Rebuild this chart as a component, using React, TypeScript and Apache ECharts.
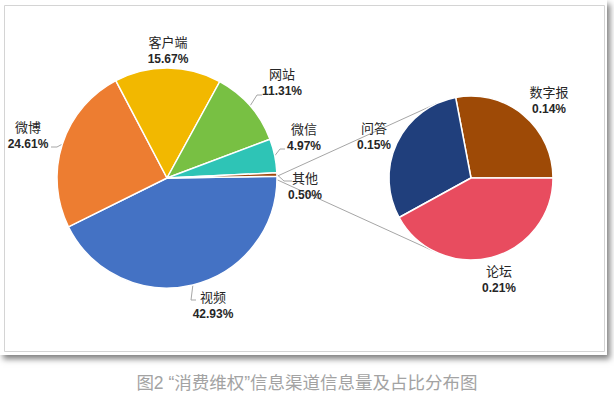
import React, { useEffect, useRef } from "react";
import * as echarts from "echarts";

// ---- data ----
const mainNames = ["视频", "微博", "客户端", "网站", "微信", "其他"];
const mainValues = [42.93, 24.61, 15.67, 11.31, 4.97, 0.5];
const mainColors = ["#4472C4", "#ED7D31", "#F2B800", "#78C043", "#2EC4B6", "#9E480E"];

const subNames = ["数字报", "问答", "论坛"];
const subValues = [0.14, 0.15, 0.21];
const subColors = ["#9E4A06", "#203F7C", "#E84C5F"];

const caption = "图2 “消费维权”信息渠道信息量及占比分布图";

// ---- layout ----
const W = 614;
const H = 393;
const MAIN_C = [167, 178];
const MAIN_R = 110;
const SUB_C = [471, 178];
const SUB_R = 82;

// label block centres
const labelPos: Record<string, [number, number]> = {
  视频: [213, 305],
  微博: [28, 135],
  客户端: [168, 50],
  网站: [282, 82],
  微信: [304, 137],
  其他: [305, 186],
  数字报: [549, 100],
  问答: [374, 136],
  论坛: [499, 279],
};
// guide line bends / ends (start is slice edge)
const guidePts: Record<string, number[][]> = {
  视频: [[191, 300], [196, 300]],
  微博: [[57, 147], [51, 147]],
  网站: [[257, 95], [262, 95]],
  微信: [[280, 149], [285, 149]],
  其他: [[284, 181], [292, 181]],
};

const mainTotal = mainValues.reduce((a, b) => a + b, 0);
const otherHalfDeg = (mainValues[mainValues.length - 1] / mainTotal) * 180;
const mainStart = otherHalfDeg; // degrees CCW from east

function mainMidScreenAngle(i: number) {
  let cum = 0;
  for (let k = 0; k < i; k++) cum += mainValues[k];
  const mid = cum + mainValues[i] / 2;
  const deg = -mainStart + (mid / mainTotal) * 360;
  return (deg * Math.PI) / 180;
}

export default function App() {
  const ref = useRef<HTMLDivElement>(null);

  useEffect(() => {
    if (!ref.current) return;
    const chart = echarts.init(ref.current, undefined, { renderer: "svg", width: W, height: H });

    const rich = {
      n: { fontSize: 13, fontFamily: "Noto Sans CJK SC", color: "#262626", lineHeight: 17, align: "center" },
      v: { fontSize: 12, fontWeight: "bold", fontFamily: "Liberation Sans", color: "#262626", lineHeight: 17, align: "center" },
    };
    const fmt = (p: any) => `{n|${p.name}}\n{v|${Number(p.value).toFixed(2)}%}`;

    const pUp = [
      MAIN_C[0] + MAIN_R * Math.cos((otherHalfDeg * Math.PI) / 180),
      MAIN_C[1] - MAIN_R * Math.sin((otherHalfDeg * Math.PI) / 180),
    ];
    const pDn = [pUp[0], MAIN_C[1] + (MAIN_C[1] - pUp[1])];
    const tangent = (p: number[], upper: boolean) => {
      const dx = SUB_C[0] - p[0];
      const dy = SUB_C[1] - p[1];
      const d = Math.sqrt(dx * dx + dy * dy);
      const phi = Math.atan2(-dy, -dx);
      const a = Math.acos(SUB_R / d);
      const ang = upper ? phi + a : phi - a;
      return [SUB_C[0] + SUB_R * Math.cos(ang), SUB_C[1] + SUB_R * Math.sin(ang)];
    };
    const tUp = tangent(pUp, true);
    const tDn = tangent(pDn, false);
    const top = tUp[1] < tDn[1] ? tUp : tDn;
    const bot = tUp[1] < tDn[1] ? tDn : tUp;

    const option: any = {
      animation: false,
      title: {
        text: caption,
        left: "center",
        top: 369,
        textStyle: {
          color: "#A3A3A3",
          fontSize: 17.5,
          fontWeight: "normal",
          fontFamily: "Liberation Sans, Noto Sans CJK SC",
        },
      },
      graphic: [
        {
          type: "rect",
          z: -10,
          shape: { x: 4.5, y: 5.5, width: 600, height: 346 },
          style: { fill: "none", stroke: "#D4D4D4", lineWidth: 1 },
        },
        {
          type: "line",
          z: 0,
          shape: { x1: pUp[0], y1: pUp[1], x2: top[0], y2: top[1] },
          style: { stroke: "#A6A6A6", lineWidth: 1 },
        },
        {
          type: "line",
          z: 0,
          shape: { x1: pDn[0], y1: pDn[1], x2: bot[0], y2: bot[1] },
          style: { stroke: "#A6A6A6", lineWidth: 1 },
        },
      ],
      series: [
        {
          type: "pie",
          center: MAIN_C,
          radius: [0, MAIN_R],
          startAngle: mainStart,
          clockwise: true,
          avoidLabelOverlap: false,
          itemStyle: { borderColor: "#fff", borderWidth: 1.5 },
          label: { show: true, position: "outside", formatter: fmt, rich },
          labelLine: { show: true, length: 5, length2: 5, lineStyle: { color: "#A6A6A6", width: 1 } },
          labelLayout: (params: any) => {
            const name = mainNames[params.dataIndex];
            const pos = labelPos[name];
            const res: any = { x: pos[0], y: pos[1], align: "center", verticalAlign: "middle" };
            if (guidePts[name]) {
              const th = mainMidScreenAngle(params.dataIndex);
              const edge = [MAIN_C[0] + MAIN_R * Math.cos(th), MAIN_C[1] + MAIN_R * Math.sin(th)];
              res.labelLinePoints = [edge, ...guidePts[name]];
            }
            return res;
          },
          data: mainNames.map((n, i) => ({
            name: n,
            value: mainValues[i],
            itemStyle: { color: mainColors[i] },
            labelLine: { show: !!guidePts[n] },
          })),
        },
        {
          type: "pie",
          center: SUB_C,
          radius: [0, SUB_R],
          startAngle: 0,
          clockwise: false,
          avoidLabelOverlap: false,
          itemStyle: { borderColor: "#fff", borderWidth: 1.5 },
          label: { show: true, position: "outside", formatter: fmt, rich },
          labelLine: { show: false },
          labelLayout: (params: any) => {
            const name = subNames[params.dataIndex];
            const pos = labelPos[name];
            return { x: pos[0], y: pos[1], align: "center", verticalAlign: "middle" };
          },
          data: subNames.map((n, i) => ({
            name: n,
            value: subValues[i],
            itemStyle: { color: subColors[i] },
          })),
        },
      ],
    };
    chart.setOption(option);
    return () => chart.dispose();
  }, []);

  return (
    <div style={{ position: "fixed", left: 0, top: 0, width: W, height: H, background: "#fff" }}>
      <div
        style={{
          position: "absolute",
          left: 0,
          top: 0,
          width: 607,
          height: 355,
          background: "#fff",
          boxShadow: "3px 4px 6px rgba(0,0,0,0.5)",
        }}
      />
      <div ref={ref} style={{ position: "absolute", left: 0, top: 0, width: W, height: H }} />
    </div>
  );
}
